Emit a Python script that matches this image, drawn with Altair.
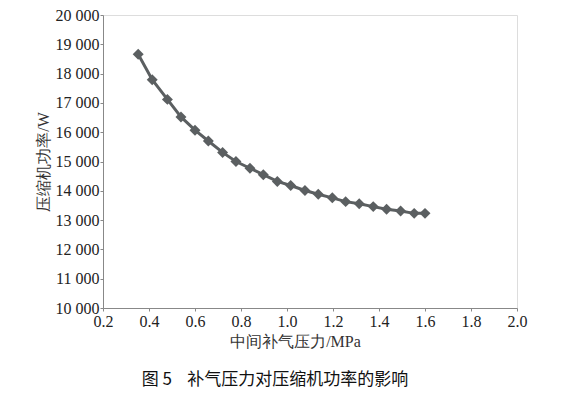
import altair as alt
import pandas as pd

pressure = [0.353, 0.414, 0.48, 0.539, 0.60, 0.658, 0.72, 0.778, 0.839, 0.897,
            0.958, 1.016, 1.078, 1.136, 1.197, 1.255, 1.314, 1.375, 1.433, 1.494,
            1.553, 1.60]
power = [18660, 17790, 17120, 16520, 16070, 15700, 15310, 15000, 14770, 14550,
         14320, 14180, 14010, 13880, 13760, 13630, 13560, 13460, 13370, 13310,
         13230, 13230]
x_ticks = [0.2, 0.4, 0.6, 0.8, 1.0, 1.2, 1.4, 1.6, 1.8, 2.0]
y_ticks = [10000, 11000, 12000, 13000, 14000, 15000, 16000, 17000, 18000, 19000, 20000]
caption_text = "图 5\u00a0\u00a0\u00a0\u00a0补气压力对压缩机功率的影响"

df = pd.DataFrame({"p": pressure, "w": power})

cjk = "Noto Sans CJK SC"
gray = "#5b5f61"

x_enc = alt.X("p:Q", scale=alt.Scale(domain=[0.2, 2.0], nice=False),
              axis=alt.Axis(values=x_ticks, format=".1f", title="中间补气压力/MPa",
                            titleX=192, titlePadding=4, labelPadding=2))
y_enc = alt.Y("w:Q", scale=alt.Scale(domain=[10000, 20000], nice=False),
              axis=alt.Axis(values=y_ticks, title="压缩机功率/W",
                            labelExpr="replace(format(datum.value, ','), ',', ' ')",
                            titlePadding=4, labelPadding=1))

line = alt.Chart(df).mark_line(color=gray, strokeWidth=3).encode(x=x_enc, y=y_enc)
pts = alt.Chart(df).mark_point(shape="diamond", filled=True, color=gray, size=120,
                               opacity=1).encode(x=x_enc, y=y_enc)

caption = alt.Chart(pd.DataFrame({"t": [caption_text]})).mark_text(
    font=cjk, fontSize=17, color="#111", align="center", baseline="middle"
).encode(text="t:N", x=alt.value(172), y=alt.value(365))

chart = alt.layer(line, pts, caption).properties(
    width=414, height=293,
    autosize=alt.AutoSizeParams(type="none"),
    padding={"left": 95, "top": 7, "right": 53, "bottom": 82},
).configure_view(stroke="#888", strokeWidth=1.2).configure(background="white"
).configure_axis(
    labelFont="Liberation Serif", labelFontSize=16, labelColor="#222",
    labelOverlap=False, labelFlush=False,
    titleFont="Liberation Serif", titleFontWeight="normal", titleFontSize=16, titleColor="#333",
    grid=False, domainColor="#888", tickColor="#888", tickSize=3,
)

chart.save("out.html", embed_options={"renderer": "svg", "actions": False})
